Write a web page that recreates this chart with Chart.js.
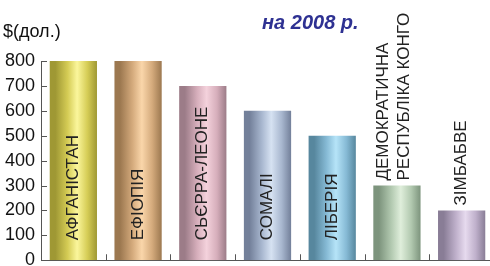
<!DOCTYPE html>
<html>
<head>
<meta charset="utf-8">
<script src="https://cdn.jsdelivr.net/npm/chart.js@4/dist/chart.umd.min.js"></script>
<style>
  html, body { margin: 0; padding: 0; background: #fff; overflow: hidden; }
  #wrap { width: 494px; height: 266px; overflow: hidden; }
</style>
</head>
<body>
<div id="wrap"><canvas id="chart" width="494" height="273"></canvas></div>
<script>
const countries = ['АФГАНІСТАН', 'ЕФІОПІЯ', 'СЬЄРРА-ЛЕОНЕ', 'СОМАЛІ', 'ЛІБЕРІЯ',
  ['ДЕМОКРАТИЧНА', 'РЕСПУБЛІКА КОНГО'], 'ЗІМБАБВЕ']
const income = [800, 800, 700, 600, 500, 300, 200]
const yTicks = [0, 100, 200, 300, 400, 500, 600, 700, 800]
const unitLabel = '$(дол.)'
const titleText = 'на 2008 р.'

// dark edge, body, highlight for each cylinder
const shades = [
  ['#9f9834', '#d5cc55', '#fbf69c'],
  ['#9c7850', '#d4aa7c', '#fad6aa'],
  ['#9c7c88', '#d6aebb', '#f4d2dc'],
  ['#73809a', '#a8b7cf', '#d6e2f2'],
  ['#57879e', '#86bad5', '#b6e4f8'],
  ['#7d947d', '#b2c9b0', '#dfeedb'],
  ['#897d96', '#bfb0cb', '#e6daee']
]

function cylinder(context) {
  const chart = context.chart
  const xs = chart.scales.x
  const s = shades[context.dataIndex] || shades[0]
  if (!xs || context.dataIndex === undefined) return s[1]
  const cx = xs.getPixelForValue(context.dataIndex)
  const w = (xs.width / countries.length) * 0.73
  if (!isFinite(cx) || !isFinite(w) || w <= 0) return s[1]
  const g = chart.ctx.createLinearGradient(cx - w / 2, 0, cx + w / 2, 0)
  g.addColorStop(0, s[0])
  g.addColorStop(0.12, s[0])
  g.addColorStop(0.38, s[1])
  g.addColorStop(0.58, s[2])
  g.addColorStop(0.8, s[1])
  g.addColorStop(1, s[0])
  return g
}

const decorations = {
  id: 'decorations',
  afterDraw(chart) {
    const ctx = chart.ctx
    const xs = chart.scales.x
    const ys = chart.scales.y
    const area = chart.chartArea
    ctx.save()
    ctx.strokeStyle = '#555'
    ctx.lineWidth = 1
    // y ticks pointing inward
    yTicks.forEach(v => {
      const y = Math.round(ys.getPixelForValue(v)) + 0.5
      ctx.beginPath()
      ctx.moveTo(area.left, y)
      ctx.lineTo(area.left + 6, y)
      ctx.stroke()
    })
    // x ticks between categories
    const step = xs.width / countries.length
    for (let i = 0; i < countries.length - 1; i++) {
      const x = Math.round(xs.getPixelForValue(i) + step / 2) + 0.5
      ctx.beginPath()
      ctx.moveTo(x, area.bottom)
      ctx.lineTo(x, area.bottom - 6)
      ctx.stroke()
    }

    // labels on the bars
    const meta = chart.getDatasetMeta(0)
    ctx.fillStyle = '#222'
    ctx.font = '17px Arial, "Liberation Sans", sans-serif'
    ctx.textAlign = 'left'
    ctx.textBaseline = 'middle'
    meta.data.forEach((bar, i) => {
      const lines = Array.isArray(countries[i]) ? countries[i] : [countries[i]]
      const len = Math.max(...lines.map(l => ctx.measureText(l).width))
      const h = bar.base - bar.y
      let start = bar.base - 20
      if (len + 30 > h) start = bar.y - 5
      ctx.save()
      ctx.translate(bar.x, start)
      ctx.rotate(-Math.PI / 2)
      lines.forEach((l, k) => {
        const off = (k - (lines.length - 1) / 2) * 21 - (lines.length > 1 ? 3 : 0)
        ctx.fillText(l, 0, off)
      })
      ctx.restore()
    })

    // unit and title
    ctx.textBaseline = 'alphabetic'
    ctx.fillStyle = '#111'
    ctx.font = '18px Arial, "Liberation Sans", sans-serif'
    ctx.fillText(unitLabel, 3, 37)
    ctx.fillStyle = '#2e3192'
    ctx.font = 'italic bold 20px Arial, "Liberation Sans", sans-serif'
    ctx.fillText(titleText, 262, 29)
    ctx.restore()
  }
}

new Chart(document.getElementById('chart'), {
  type: 'bar',
  data: {
    labels: countries,
    datasets: [{
      data: income,
      backgroundColor: cylinder,
      borderWidth: 0,
      categoryPercentage: 1,
      barPercentage: 0.73
    }]
  },
  options: {
    responsive: false,
    animation: false,
    layout: { padding: { top: 61, bottom: 0, right: 0, left: 0 } },
    plugins: { legend: { display: false }, tooltip: { enabled: false } },
    scales: {
      x: {
        offset: true,
        grid: { display: false },
        border: { display: true, color: '#555', width: 1 },
        ticks: { display: false },
        afterFit(scale) { scale.height = 0 }
      },
      y: {
        min: 0,
        max: 800,
        grid: { display: false, drawTicks: false },
        border: { display: true, color: '#555', width: 1 },
        ticks: {
          stepSize: 100,
          padding: 6,
          color: '#111',
          font: { family: 'Arial, "Liberation Sans", sans-serif', size: 18, lineHeight: 0.75 }
        },
        afterFit(scale) { scale.width = 41 }
      }
    }
  },
  plugins: [decorations]
})
</script>
</body>
</html>
